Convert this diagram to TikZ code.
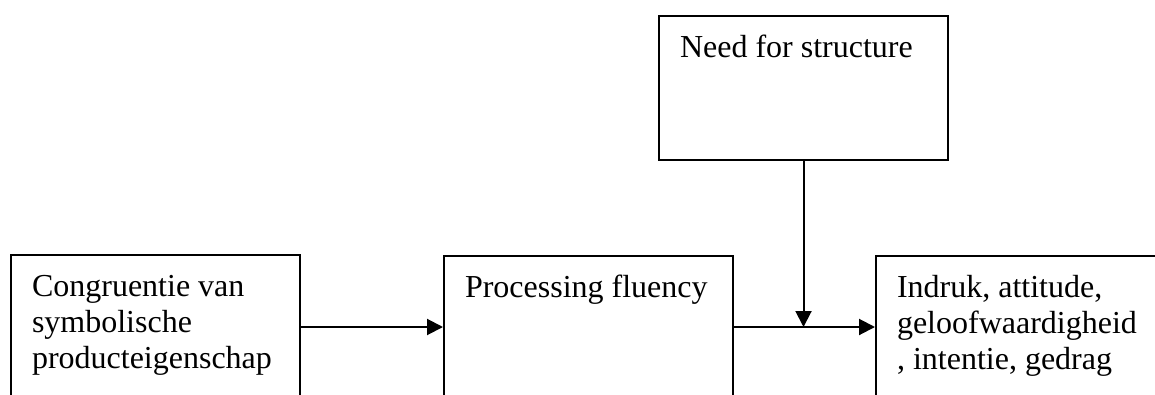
\documentclass[tikz,border=0pt]{standalone}
\usepackage{fontspec}
\setmainfont{Liberation Serif}
\usetikzlibrary{arrows.meta,calc}

\begin{document}
\begin{tikzpicture}[x=1pt,y=1pt,
    box/.style={draw,line width=2pt,anchor=north west,inner xsep=21pt,inner ysep=16pt,
      font=\fontsize{32}{36}\selectfont},
    link/.style={line width=2pt,-{Triangle[length=16pt,width=16pt]}}]
            \useasboundingbox (0,0) rectangle (1155,394);
            \clip (0,0) rectangle (1155,394);

            % bottom row runs off the page
            \node[box] (cong) at (10,140) {\parbox[t][220pt][t]{247pt}{\raggedright\strut Congruentie van\\ symbolische\\ producteigenschap}};
            \node[box] (proc) at (443,139) {\parbox[t][220pt][t]{247pt}{\raggedright\strut Processing fluency}};
            \node[box] (ind) at (875,139) {\parbox[t][220pt][t]{247pt}{\raggedright\strut Indruk, attitude,\\ geloofwaardigheid\\ , intentie, gedrag}};
            \node[box] (need) at (658,379) {\parbox[t][112pt][t]{247pt}{\raggedright\strut Need for structure}};

            \coordinate (join) at ($(proc.north east)!.5!(ind.north west)+(0,-72)$);

            \draw[link] (cong.east |- join) -- (proc.west |- join);
            \draw[link] (proc.east |- join) -- (ind.west |- join);
            \draw[link] (need.south) -- (need.south |- join);
        \end{tikzpicture}
\end{document}
